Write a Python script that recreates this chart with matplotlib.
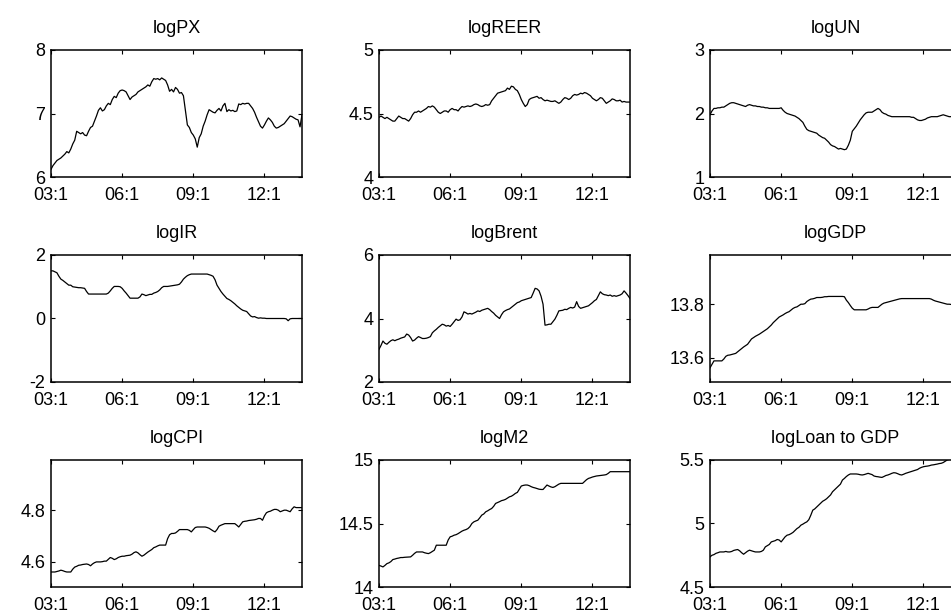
import matplotlib
matplotlib.use("Agg")
import matplotlib.pyplot as plt

plt.rcParams['font.family'] = ['Liberation Sans', 'DejaVu Sans']

# monthly observations, 2003:1 .. 2013:8 (one row per year)
log_px = [
    6.12, 6.18, 6.22, 6.26, 6.28, 6.30, 6.33, 6.36, 6.40, 6.38, 6.44, 6.52,
    6.58, 6.72, 6.70, 6.68, 6.70, 6.66, 6.65, 6.72, 6.78, 6.80, 6.88, 6.96,
    7.05, 7.09, 7.04, 7.06, 7.12, 7.16, 7.14, 7.22, 7.27, 7.25, 7.32, 7.36,
    7.37, 7.36, 7.34, 7.28, 7.22, 7.26, 7.28, 7.30, 7.34, 7.36, 7.38, 7.40,
    7.42, 7.45, 7.43, 7.50, 7.55, 7.54, 7.55, 7.53, 7.56, 7.54, 7.52, 7.45,
    7.35, 7.38, 7.34, 7.41, 7.38, 7.32, 7.33, 7.28, 7.05, 6.82, 6.78, 6.70,
    6.66, 6.60, 6.47, 6.62, 6.68, 6.80, 6.88, 6.98, 7.06, 7.04, 7.02, 7.01,
    7.05, 7.08, 7.04, 7.12, 7.16, 7.03, 7.06, 7.04, 7.05, 7.03, 7.04, 7.15,
    7.14, 7.16, 7.15, 7.16, 7.16, 7.12, 7.08, 7.02, 6.94, 6.87, 6.80, 6.77,
    6.82, 6.88, 6.93, 6.90, 6.86, 6.80, 6.77, 6.78, 6.80, 6.82, 6.84, 6.88,
    6.92, 6.96, 6.95, 6.93, 6.91, 6.90, 6.79, 6.98,
]
log_reer = [
    4.47, 4.48, 4.47, 4.46, 4.47, 4.46, 4.45, 4.44, 4.44, 4.46, 4.48, 4.47,
    4.46, 4.46, 4.45, 4.44, 4.46, 4.49, 4.51, 4.51, 4.52, 4.51, 4.52, 4.53,
    4.54, 4.555, 4.55, 4.56, 4.55, 4.53, 4.51, 4.50, 4.51, 4.52, 4.52, 4.51,
    4.53, 4.54, 4.53, 4.53, 4.52, 4.54, 4.555, 4.55, 4.555, 4.56, 4.555, 4.56,
    4.57, 4.575, 4.57, 4.56, 4.555, 4.56, 4.57, 4.565, 4.57, 4.60, 4.62, 4.64,
    4.66, 4.665, 4.67, 4.675, 4.68, 4.70, 4.69, 4.715, 4.71, 4.69, 4.68, 4.65,
    4.61, 4.58, 4.555, 4.57, 4.61, 4.62, 4.625, 4.63, 4.635, 4.62, 4.625, 4.61,
    4.60, 4.605, 4.60, 4.595, 4.595, 4.60, 4.59, 4.58, 4.59, 4.61, 4.625, 4.62,
    4.61, 4.62, 4.64, 4.65, 4.645, 4.65, 4.66, 4.655, 4.665, 4.66, 4.65, 4.64,
    4.62, 4.61, 4.60, 4.61, 4.625, 4.62, 4.60, 4.58, 4.59, 4.60, 4.615, 4.61,
    4.60, 4.60, 4.605, 4.59, 4.595, 4.59, 4.59, 4.59,
]
log_un = [
    1.98, 2.04, 2.08, 2.08, 2.09, 2.09, 2.10, 2.10, 2.12, 2.14, 2.16, 2.17,
    2.17, 2.16, 2.15, 2.14, 2.13, 2.12, 2.11, 2.13, 2.14, 2.13, 2.12, 2.12,
    2.11, 2.11, 2.10, 2.10, 2.09, 2.09, 2.08, 2.08, 2.08, 2.08, 2.08, 2.08,
    2.09, 2.05, 2.02, 2.00, 1.99, 1.98, 1.97, 1.96, 1.94, 1.92, 1.89, 1.86,
    1.80, 1.75, 1.73, 1.72, 1.71, 1.70, 1.69, 1.66, 1.64, 1.62, 1.61, 1.58,
    1.55, 1.51, 1.49, 1.48, 1.46, 1.44, 1.45, 1.44, 1.43, 1.44, 1.50, 1.58,
    1.72, 1.76, 1.80, 1.85, 1.90, 1.94, 1.98, 2.01, 2.02, 2.02, 2.02, 2.04,
    2.06, 2.08, 2.06, 2.02, 2.00, 1.99, 1.97, 1.96, 1.95, 1.95, 1.95, 1.95,
    1.95, 1.95, 1.95, 1.95, 1.95, 1.95, 1.94, 1.94, 1.92, 1.90, 1.89, 1.89,
    1.90, 1.91, 1.93, 1.94, 1.95, 1.95, 1.95, 1.95, 1.96, 1.97, 1.98, 1.97,
    1.96, 1.95, 1.95, 1.95, 1.94, 1.94, 1.93, 1.93,
]
log_ir = [
    1.50, 1.50, 1.47, 1.44, 1.33, 1.24, 1.20, 1.15, 1.10, 1.05, 1.05, 1.00,
    0.99, 0.98, 0.97, 0.97, 0.96, 0.95, 0.85, 0.77, 0.77, 0.77, 0.77, 0.77,
    0.77, 0.77, 0.77, 0.77, 0.77, 0.80, 0.87, 0.95, 1.01, 1.01, 1.01, 1.00,
    0.95, 0.87, 0.80, 0.72, 0.64, 0.64, 0.64, 0.64, 0.64, 0.68, 0.77, 0.75,
    0.72, 0.74, 0.76, 0.76, 0.80, 0.82, 0.85, 0.90, 0.97, 1.01, 1.01, 1.01,
    1.02, 1.03, 1.04, 1.05, 1.06, 1.08, 1.15, 1.24, 1.30, 1.35, 1.38, 1.40,
    1.40, 1.40, 1.40, 1.40, 1.40, 1.40, 1.40, 1.40, 1.38, 1.36, 1.33, 1.22,
    1.05, 0.95, 0.85, 0.77, 0.70, 0.63, 0.60, 0.56, 0.51, 0.46, 0.40, 0.35,
    0.30, 0.26, 0.24, 0.22, 0.15, 0.08, 0.05, 0.06, 0.03, 0.01, 0.02, 0.01,
    0.01, 0.00, 0.00, 0.00, 0.00, 0.00, 0.00, 0.00, 0.00, 0.00, 0.00, -0.01,
    -0.07, -0.01, 0.00, 0.00, 0.00, 0.00, 0.00, 0.00,
]
log_brent = [
    3.03, 3.15, 3.29, 3.22, 3.19, 3.25, 3.30, 3.33, 3.30, 3.33, 3.35, 3.38,
    3.40, 3.42, 3.51, 3.48, 3.40, 3.29, 3.32, 3.38, 3.43, 3.40, 3.37, 3.37,
    3.38, 3.40, 3.43, 3.55, 3.61, 3.66, 3.72, 3.77, 3.82, 3.80, 3.76, 3.78,
    3.75, 3.82, 3.90, 3.98, 3.94, 3.96, 4.05, 4.21, 4.18, 4.14, 4.16, 4.14,
    4.17, 4.20, 4.24, 4.22, 4.26, 4.28, 4.30, 4.32, 4.28, 4.22, 4.17, 4.10,
    4.05, 4.00, 4.12, 4.21, 4.25, 4.28, 4.30, 4.35, 4.40, 4.45, 4.50, 4.52,
    4.56, 4.58, 4.60, 4.62, 4.64, 4.66, 4.80, 4.95, 4.93, 4.87, 4.70, 4.45,
    3.79, 3.80, 3.82, 3.82, 3.90, 3.98, 4.10, 4.24, 4.25, 4.26, 4.29, 4.28,
    4.32, 4.35, 4.33, 4.36, 4.53, 4.38, 4.32, 4.34, 4.36, 4.38, 4.40, 4.45,
    4.50, 4.56, 4.60, 4.72, 4.84, 4.78, 4.75, 4.74, 4.72, 4.74, 4.70, 4.72,
    4.70, 4.72, 4.74, 4.78, 4.87, 4.80, 4.72, 4.63,
]
log_gdp = [
    13.562, 13.575, 13.588, 13.588, 13.588, 13.588, 13.588, 13.595, 13.605, 13.609, 13.610, 13.612,
    13.614, 13.616, 13.622, 13.628, 13.634, 13.640, 13.645, 13.650, 13.660, 13.670, 13.675, 13.680,
    13.684, 13.688, 13.693, 13.698, 13.703, 13.708, 13.715, 13.722, 13.731, 13.738, 13.745, 13.752,
    13.756, 13.760, 13.765, 13.769, 13.772, 13.778, 13.784, 13.788, 13.790, 13.795, 13.800, 13.800,
    13.802, 13.810, 13.815, 13.819, 13.820, 13.822, 13.825, 13.825, 13.825, 13.826, 13.828, 13.828,
    13.829, 13.829, 13.829, 13.829, 13.829, 13.829, 13.829, 13.829, 13.828, 13.815, 13.806, 13.795,
    13.785, 13.779, 13.779, 13.779, 13.779, 13.779, 13.779, 13.779, 13.782, 13.786, 13.788, 13.788,
    13.788, 13.788, 13.794, 13.800, 13.804, 13.806, 13.808, 13.810, 13.812, 13.814, 13.816, 13.818,
    13.820, 13.821, 13.821, 13.821, 13.821, 13.821, 13.821, 13.821, 13.821, 13.821, 13.821, 13.821,
    13.821, 13.821, 13.821, 13.821, 13.819, 13.815, 13.812, 13.810, 13.808, 13.806, 13.804, 13.802,
    13.800, 13.800, 13.799, 13.798, 13.797, 13.796, 13.795, 13.795,
]
log_cpi = [
    4.561, 4.561, 4.561, 4.563, 4.565, 4.568, 4.566, 4.563, 4.561, 4.561, 4.561, 4.572,
    4.580, 4.583, 4.587, 4.588, 4.590, 4.591, 4.592, 4.590, 4.585, 4.592, 4.597, 4.600,
    4.600, 4.600, 4.601, 4.603, 4.603, 4.610, 4.617, 4.614, 4.609, 4.612, 4.617, 4.620,
    4.622, 4.622, 4.624, 4.625, 4.626, 4.630, 4.636, 4.639, 4.635, 4.628, 4.622, 4.626,
    4.632, 4.638, 4.643, 4.648, 4.655, 4.658, 4.662, 4.665, 4.665, 4.665, 4.665, 4.690,
    4.705, 4.710, 4.710, 4.712, 4.718, 4.725, 4.725, 4.725, 4.725, 4.725, 4.722, 4.716,
    4.725, 4.733, 4.735, 4.735, 4.735, 4.735, 4.735, 4.733, 4.730, 4.725, 4.720, 4.716,
    4.725, 4.738, 4.742, 4.745, 4.748, 4.748, 4.748, 4.748, 4.748, 4.748, 4.742, 4.735,
    4.745, 4.755, 4.757, 4.758, 4.760, 4.761, 4.762, 4.763, 4.765, 4.768, 4.768, 4.761,
    4.778, 4.790, 4.794, 4.796, 4.800, 4.803, 4.803, 4.800, 4.794, 4.797, 4.800, 4.800,
    4.797, 4.794, 4.805, 4.813, 4.810, 4.810, 4.810, 4.810,
]
log_m2 = [
    14.170, 14.165, 14.158, 14.170, 14.184, 14.190, 14.200, 14.216, 14.220, 14.225, 14.228, 14.232,
    14.232, 14.234, 14.235, 14.236, 14.237, 14.250, 14.265, 14.276, 14.276, 14.276, 14.276, 14.270,
    14.266, 14.263, 14.270, 14.280, 14.290, 14.329, 14.329, 14.329, 14.329, 14.329, 14.329, 14.370,
    14.395, 14.400, 14.408, 14.412, 14.420, 14.430, 14.440, 14.447, 14.452, 14.460, 14.475, 14.500,
    14.513, 14.520, 14.526, 14.545, 14.566, 14.575, 14.592, 14.600, 14.610, 14.618, 14.635, 14.658,
    14.665, 14.672, 14.680, 14.684, 14.690, 14.700, 14.710, 14.715, 14.725, 14.737, 14.745, 14.770,
    14.795, 14.800, 14.803, 14.803, 14.798, 14.790, 14.784, 14.780, 14.775, 14.770, 14.768, 14.768,
    14.785, 14.803, 14.795, 14.788, 14.784, 14.790, 14.800, 14.810, 14.816, 14.816, 14.816, 14.816,
    14.816, 14.816, 14.816, 14.816, 14.816, 14.816, 14.816, 14.816, 14.830, 14.845, 14.855, 14.860,
    14.866, 14.870, 14.874, 14.876, 14.878, 14.880, 14.882, 14.885, 14.895, 14.908, 14.908, 14.908,
    14.908, 14.908, 14.908, 14.908, 14.908, 14.908, 14.908, 14.908,
]
log_loan_gdp = [
    4.737, 4.750, 4.755, 4.765, 4.770, 4.776, 4.776, 4.776, 4.780, 4.776, 4.776, 4.780,
    4.788, 4.792, 4.795, 4.785, 4.770, 4.758, 4.770, 4.782, 4.790, 4.785, 4.780, 4.776,
    4.776, 4.776, 4.780, 4.790, 4.816, 4.825, 4.835, 4.855, 4.860, 4.865, 4.874, 4.870,
    4.855, 4.875, 4.895, 4.908, 4.912, 4.920, 4.930, 4.945, 4.960, 4.970, 4.987, 4.995,
    5.005, 5.013, 5.030, 5.065, 5.105, 5.115, 5.130, 5.145, 5.160, 5.175, 5.184, 5.195,
    5.210, 5.225, 5.250, 5.265, 5.280, 5.295, 5.310, 5.342, 5.355, 5.370, 5.382, 5.390,
    5.390, 5.390, 5.390, 5.388, 5.384, 5.382, 5.385, 5.390, 5.395, 5.390, 5.385, 5.374,
    5.370, 5.368, 5.365, 5.363, 5.370, 5.378, 5.382, 5.388, 5.395, 5.400, 5.398, 5.392,
    5.385, 5.382, 5.388, 5.395, 5.400, 5.405, 5.410, 5.415, 5.420, 5.425, 5.435, 5.442,
    5.447, 5.450, 5.452, 5.455, 5.460, 5.462, 5.465, 5.468, 5.472, 5.474, 5.480, 5.490,
    5.500, 5.505, 5.510, 5.515, 5.520, 5.525, 5.530, 5.535,
]

titles = ['logPX', 'logREER', 'logUN', 'logIR', 'logBrent', 'logGDP',
          'logCPI', 'logM2', 'logLoan to GDP']
series = [log_px, log_reer, log_un, log_ir, log_brent, log_gdp,
          log_cpi, log_m2, log_loan_gdp]
ylims = [(6, 8), (4, 5), (1, 3), (-2, 2), (2, 6), (13.509, 13.984),
         (4.503, 4.994), (14, 15), (4.5, 5.5)]
yticks = [[6, 7, 8], [4, 4.5, 5], [1, 2, 3], [-2, 0, 2], [2, 4, 6],
          [13.6, 13.8], [4.6, 4.8], [14, 14.5, 15], [4.5, 5, 5.5]]
ytick_labels = [['6', '7', '8'], ['4', '4.5', '5'], ['1', '2', '3'],
                ['-2', '0', '2'], ['2', '4', '6'], ['13.6', '13.8'],
                ['4.6', '4.8'], ['14', '14.5', '15'], ['4.5', '5', '5.5']]
xtick_pos = [0, 36, 72, 108]
xtick_labels = ['03:1', '06:1', '09:1', '12:1']

fig = plt.figure(figsize=(9.51, 6.15), dpi=100)

# axes boxes in pixels (the right column runs past the figure edge, as in the source)
col_left = [51, 379, 710]
row_top = [50, 255, 460]
ax_w, ax_h = 251, 127
W, H = 951, 615

for i in range(9):
    r, c = divmod(i, 3)
    ax = fig.add_axes([col_left[c] / W, 1 - (row_top[r] + ax_h) / H, ax_w / W, ax_h / H])
    months = list(range(len(series[i])))
    ax.plot(months, series[i], color='black', linewidth=0.9)
    ax.set_xlim(0, 127)
    ax.set_ylim(*ylims[i])
    ax.set_xticks(xtick_pos)
    ax.set_xticklabels(xtick_labels)
    ax.set_yticks(yticks[i])
    ax.set_yticklabels(ytick_labels[i])
    ax.tick_params(direction='in', top=True, right=True, length=3, width=0.8,
                   labelsize=13, pad=4)
    ax.tick_params(axis='x', pad=7)
    for sp in ax.spines.values():
        sp.set_linewidth(1.1)
    ax.set_title(titles[i], fontsize=13, pad=12)

fig.savefig('out.png', dpi=100)
